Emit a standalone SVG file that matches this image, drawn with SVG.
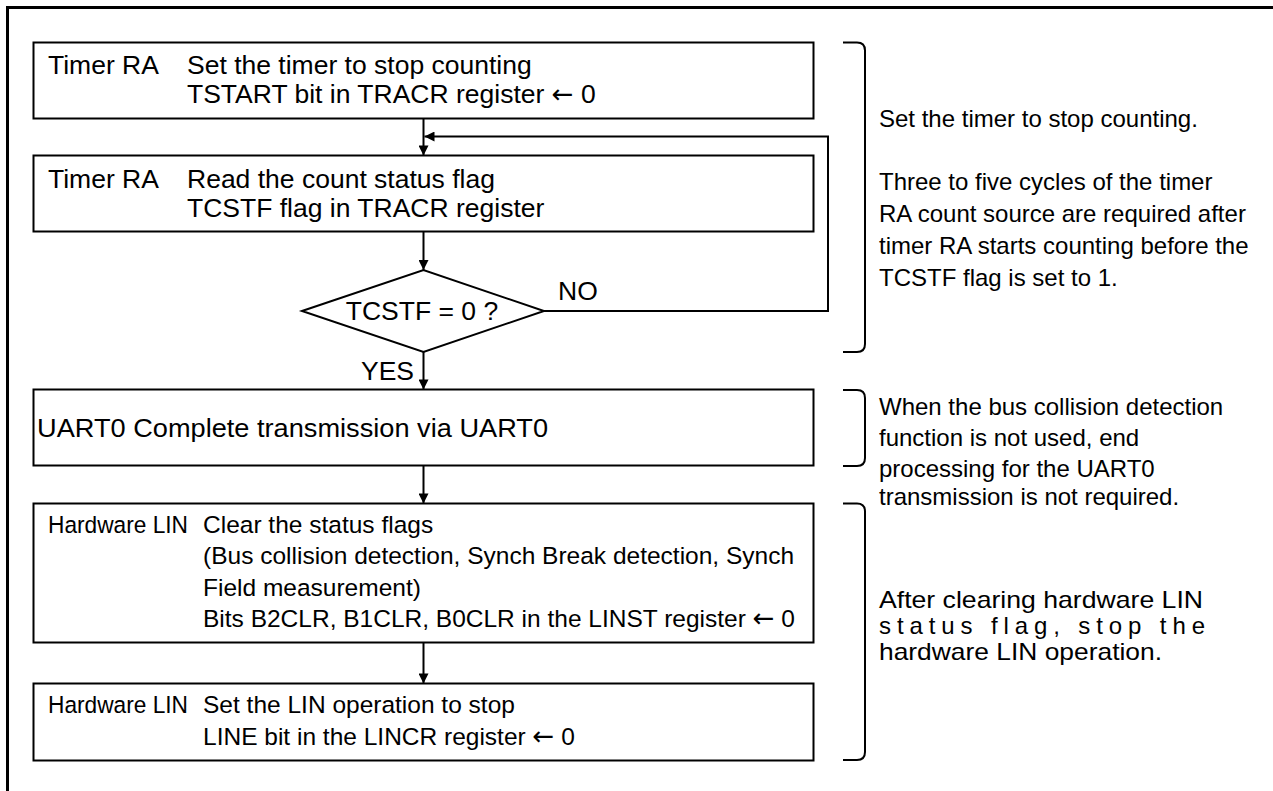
<svg xmlns="http://www.w3.org/2000/svg" width="1273" height="791" viewBox="0 0 1273 791">
<defs>
<marker id="ah" viewBox="0 0 10 10" refX="10" refY="5" markerWidth="12" markerHeight="10" markerUnits="userSpaceOnUse" orient="auto">
<path d="M0,0 L10,5 L0,10 z" fill="#000"/>
</marker>
</defs>
<style>
text{font-family:"Liberation Sans",Arial,sans-serif;fill:#000}
.bt{font-size:26.5px}
.b4{font-size:24.5px}
.nt{font-size:24px}
.ar{font-family:"DejaVu Sans",sans-serif;font-size:26px}
.box{fill:#fff;stroke:#000;stroke-width:2}
.ln{fill:none;stroke:#000;stroke-width:2}
.br{fill:none;stroke:#000;stroke-width:2}
</style>
<rect width="1273" height="791" fill="#fff"/>
<path d="M7.5,791 V7.5 H1273" fill="none" stroke="#000" stroke-width="3"/>
<g id="connectors">
<path class="ln" d="M423.5,118.5 V155.5" marker-end="url(#ah)"/>
<path class="ln" d="M423.5,232 V270" marker-end="url(#ah)"/>
<path class="ln" d="M544,311 H828 V136.5 H424.5" marker-end="url(#ah)"/>
<path class="ln" d="M423.5,352 V389.5" marker-end="url(#ah)"/>
<path class="ln" d="M423.5,466 V503.5" marker-end="url(#ah)"/>
<path class="ln" d="M423.5,643 V683.5" marker-end="url(#ah)"/>
<text class="bt" x="558" y="300">NO</text>
<text class="bt" x="361" y="380">YES</text>
</g>
<g id="n1">
<rect class="box" x="33.5" y="42.5" width="780" height="76"/>
<text class="bt" x="48" y="74">Timer RA</text>
<text class="bt" x="187" y="74">Set the timer to stop counting</text>
<text class="bt" x="187" y="103">TSTART bit in TRACR register <tspan class="ar">←</tspan> 0</text>
</g>
<g id="n2">
<rect class="box" x="33.5" y="155.5" width="780" height="76"/>
<text class="bt" x="48" y="187.5">Timer RA</text>
<text class="bt" x="187" y="187.5">Read the count status flag</text>
<text class="bt" x="187" y="216.5">TCSTF flag in TRACR register</text>
</g>
<g id="n3">
<polygon class="box" points="302,311 423.5,270 544,311 423.5,352"/>
<text class="bt" x="422" y="320" text-anchor="middle">TCSTF = 0 ?</text>
</g>
<g id="n4">
<rect class="box" x="33.5" y="389.5" width="780" height="76"/>
<text class="bt" x="37" y="437" textLength="511" lengthAdjust="spacingAndGlyphs">UART0 Complete transmission via UART0</text>
</g>
<g id="n5">
<rect class="box" x="33.5" y="503.5" width="780" height="139"/>
<text class="b4" x="48" y="533" textLength="140" lengthAdjust="spacingAndGlyphs">Hardware LIN</text>
<text class="b4" x="203" y="533">Clear the status flags</text>
<text class="b4" x="203" y="564">(Bus collision detection, Synch Break detection, Synch</text>
<text class="b4" x="203" y="596">Field measurement)</text>
<text class="b4" x="203" y="627">Bits B2CLR, B1CLR, B0CLR in the LINST register <tspan class="ar">←</tspan> 0</text>
</g>
<g id="n6">
<rect class="box" x="33.5" y="683.5" width="780" height="77"/>
<text class="b4" x="48" y="713" textLength="140" lengthAdjust="spacingAndGlyphs">Hardware LIN</text>
<text class="b4" x="203" y="713">Set the LIN operation to stop</text>
<text class="b4" x="203" y="745">LINE bit in the LINCR register <tspan class="ar">←</tspan> 0</text>
</g>
<g id="note1">
<path class="br" d="M843,42.5 H857 Q865,42.5 865,50.5 V344 Q865,352 857,352 H843"/>
<text class="nt" x="879" y="127">Set the timer to stop counting.</text>
<text class="nt" x="879" y="190">Three to five cycles of the timer</text>
<text class="nt" x="879" y="222">RA count source are required after</text>
<text class="nt" x="879" y="254">timer RA starts counting before the</text>
<text class="nt" x="879" y="286">TCSTF flag is set to 1.</text>
</g>
<g id="note2">
<path class="br" d="M843,390 H857 Q865,390 865,398 V458 Q865,466 857,466 H843"/>
<text class="nt" x="879" y="415">When the bus collision detection</text>
<text class="nt" x="879" y="446">function is not used, end</text>
<text class="nt" x="879" y="477">processing for the UART0</text>
<text class="nt" x="879" y="505">transmission is not required.</text>
</g>
<g id="note3">
<path class="br" d="M843,503.5 H857 Q865,503.5 865,511.5 V752 Q865,760 857,760 H843"/>
<text class="nt" x="879" y="608" textLength="324" lengthAdjust="spacingAndGlyphs">After clearing hardware LIN</text>
<text class="nt" x="879" y="634" textLength="326" lengthAdjust="spacing">status flag, stop the</text>
<text class="nt" x="879" y="660" textLength="283" lengthAdjust="spacingAndGlyphs">hardware LIN operation.</text>
</g>
</svg>
